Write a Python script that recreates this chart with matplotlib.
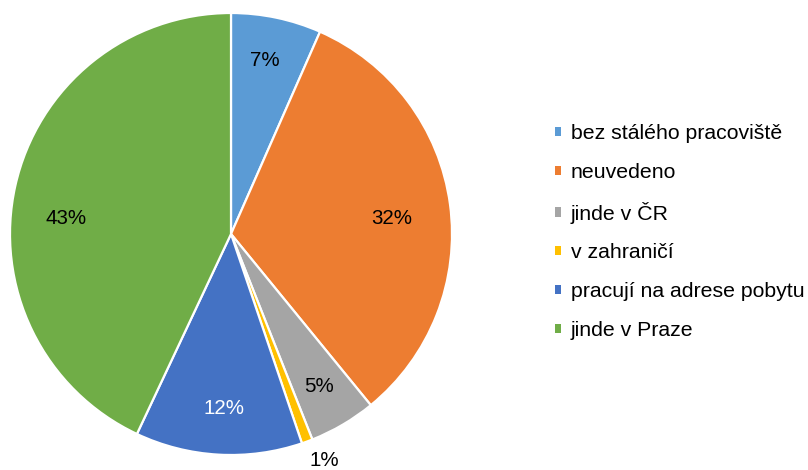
import matplotlib
matplotlib.use("Agg")
import matplotlib.pyplot as plt
import numpy as np
from matplotlib.patches import Patch

plt.rcParams['font.family'] = ['Liberation Sans', 'DejaVu Sans']

categories = ["bez stálého pracoviště", "neuvedeno", "jinde v ČR", "v zahraničí",
              "pracují na adrese pobytu", "jinde v Praze"]
values = [6.6, 32.5, 4.9, 0.8, 12.2, 43.0]
colors = ["#5B9BD5", "#ED7D31", "#A5A5A5", "#FFC000", "#4472C4", "#70AD47"]
label_colors = ["black", "black", "black", "black", "white", "black"]
# label anchor positions (pixel coords in reference, Excel "best fit")
label_px = [(265, 60), (392, 218), (319, 386), (324, 461), (224, 408), (66, 218)]

W, H = 808, 470
fig = plt.figure(figsize=(W / 100, H / 100), dpi=100)
cx, cy, r = 231, 234, 221
ax = fig.add_axes([(cx - r) / W, (H - cy - r) / H, 2 * r / W, 2 * r / H])

wedges, texts, autotexts = ax.pie(
    values, colors=colors, startangle=90, counterclock=False,
    autopct=lambda p: f"{p:.0f}%", pctdistance=0.78,
    wedgeprops=dict(edgecolor="white", linewidth=1.6),
    textprops=dict(fontsize=14.8))
ax.set_xlim(-1, 1)
ax.set_ylim(-1, 1)
ax.set_aspect('equal')
ax.axis('off')

for t, c, (px, py) in zip(autotexts, label_colors, label_px):
    t.set_color(c)
    t.set_position(((px - cx) / r, (cy - py) / r))

handles = [Patch(facecolor=c, edgecolor='none') for c in colors]
fig.legend(handles, categories, loc='center left',
           bbox_to_anchor=(555 / W, 1 - 232 / H), frameon=False,
           fontsize=15.3, handlelength=0.3, handleheight=0.3,
           handletextpad=0.43, labelspacing=0.93, borderpad=0,
           borderaxespad=0)

fig.savefig("out.png", dpi=100)
